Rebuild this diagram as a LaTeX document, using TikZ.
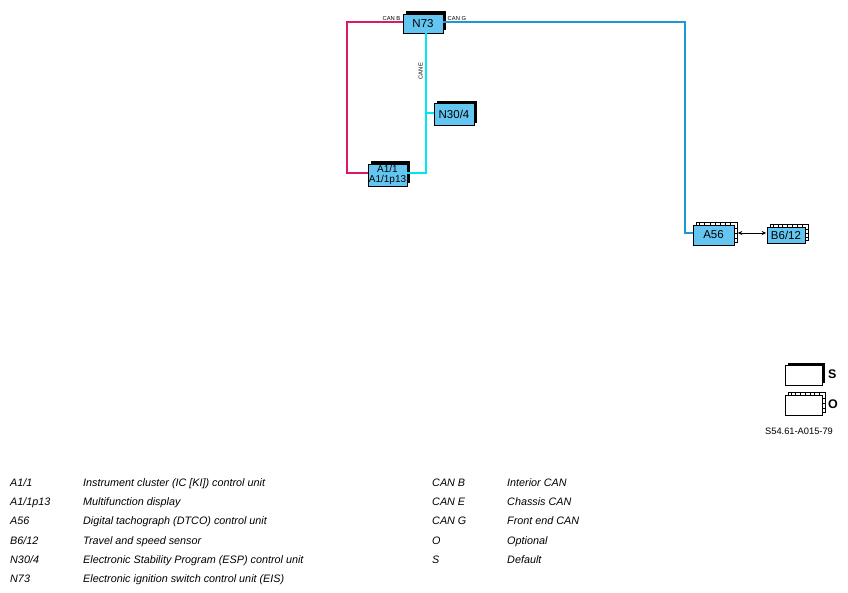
\documentclass[tikz,border=0pt]{standalone}
\usepackage{fontspec}
\setmainfont{Liberation Sans}
\usetikzlibrary{positioning}
\usetikzlibrary{calc,shadows,arrows.meta}

\definecolor{ecufill}{RGB}{100,198,240}
\definecolor{canb}{RGB}{222,24,104}
\definecolor{cang}{RGB}{30,152,212}
\definecolor{cane}{RGB}{0,230,240}

\tikzset{
  ecubase/.style={draw, fill=ecufill, line width=0.6pt, inner sep=0pt, align=center,
    font=\fontsize{11.5}{10}\selectfont},
  ecu/.style={ecubase, general shadow={fill=black, shadow xshift=2.5pt, shadow yshift=2.5pt}},
  optecu/.style={ecubase, general shadow={fill=white, draw=black, line width=0.5pt,
    shadow xshift=3pt, shadow yshift=3pt}},
  bus/.style={line width=2pt},
  buslabel/.style={font=\fontsize{5.8}{6}\selectfont, inner sep=0.5pt},
  legend/.style={anchor=base west, inner sep=0pt, font=\fontsize{10.8}{12}\selectfont\itshape}
}

% ticks on the top and right edge of an optional unit
\newcommand{\optticks}[1]{%
  \foreach \i in {1,...,7}
    \draw[line width=0.4pt] ($(#1.north west)!\i/8!(#1.north east)+(1.5,0)$) -- ++(0,-3);
  \foreach \i in {1,...,3}
    \draw[line width=0.4pt] ($(#1.north east)!\i/4!(#1.south east)+(0,-1.5)$) -- ++(3,0);
}

\begin{document}
\begin{tikzpicture}[x=1pt,y=-1pt]
  \useasboundingbox[fill=white] (0,0) rectangle (848,593);

  \node[ecu, minimum width=40pt, minimum height=19pt] (N73) at (423,23.5) {N73};
  \node[ecu, minimum width=40pt, minimum height=22pt] (N30) at (454,114.5) {N30/4};
  \node[ecu, minimum width=39pt, minimum height=22pt, font=\fontsize{10}{9.5}\selectfont] (A1) at (387.5,175) {A1/1\\[0.5pt]A1/1p13};
  \node[optecu, minimum width=41pt, minimum height=20pt] (A56) at (713.5,235) {A56};
  \node[optecu, minimum width=38pt, minimum height=16pt] (B6) at (786,235) {B6/12};
  \optticks{A56}
  \optticks{B6}

  % CAN B
  \draw[bus, canb] ([yshift=1.5pt]N73.west) -| (347,173) -- ([yshift=2pt]A1.west);
  \node[buslabel, anchor=south east] at (401,21) {CAN B};
  % CAN G
  \draw[bus, cang] ([yshift=1.5pt]N73.east) -| (685,233) -- ([yshift=2pt]A56.west);
  \node[buslabel, anchor=south west] at (447,21) {CAN G};
  % CAN E
  \coordinate (tap) at (426,113);
  \draw[bus, cane] ([xshift=3pt]N73.south) -- (426,173) -- ([yshift=2pt]A1.east);
  \draw[bus, cane] (tap) -- (N30.west |- tap);
  \node[buslabel, rotate=90] at (420.5,71) {CAN E};

  \draw[{Stealth[length=4.5pt,width=4pt]}-{Stealth[length=4.5pt,width=4pt]}, line width=0.7pt]
    ([xshift=3.5pt,yshift=2pt]A56.east) -- ([xshift=-0.5pt,yshift=2pt]B6.west);

  % key
  \node[ecu, fill=white, minimum width=37pt, minimum height=20pt] (S) at (803.5,375) {};
  \node[optecu, fill=white, minimum width=37pt, minimum height=20pt] (O) at (803.5,405) {};
  \optticks{O}
  \node[anchor=west, inner sep=0pt, font=\fontsize{12.5}{12}\bfseries] at (828,374) {S};
  \node[anchor=west, inner sep=0pt, font=\fontsize{12.5}{12}\bfseries] at (828,404) {O};
  \node[inner sep=0pt, font=\fontsize{9.3}{9}\selectfont] at (799,431) {S54.61-A015-79};

  \node[legend] at (10,486) {A1/1};
  \node[legend] at (83,486) {Instrument cluster (IC [KI]) control unit};
  \node[legend] at (10,505) {A1/1p13};
  \node[legend] at (83,505) {Multifunction display};
  \node[legend] at (10,524) {A56};
  \node[legend] at (83,524) {Digital tachograph (DTCO) control unit};
  \node[legend] at (10,544) {B6/12};
  \node[legend] at (83,544) {Travel and speed sensor};
  \node[legend] at (10,563) {N30/4};
  \node[legend] at (83,563) {Electronic Stability Program (ESP) control unit};
  \node[legend] at (10,582) {N73};
  \node[legend] at (83,582) {Electronic ignition switch control unit (EIS)};

  \node[legend] at (432,486) {CAN B};
  \node[legend] at (507,486) {Interior CAN};
  \node[legend] at (432,505) {CAN E};
  \node[legend] at (507,505) {Chassis CAN};
  \node[legend] at (432,524) {CAN G};
  \node[legend] at (507,524) {Front end CAN};
  \node[legend] at (432,544) {O};
  \node[legend] at (507,544) {Optional};
  \node[legend] at (432,563) {S};
  \node[legend] at (507,563) {Default};
\end{tikzpicture}
\end{document}
